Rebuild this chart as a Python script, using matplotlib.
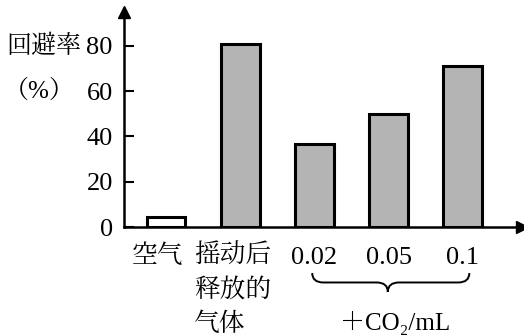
import numpy as np
import matplotlib
matplotlib.use("Agg")
import matplotlib.pyplot as plt
from matplotlib.path import Path
from matplotlib.patches import PathPatch
import matplotlib.transforms as mtransforms

FONTS = ['Liberation Serif', 'Noto Serif CJK JP', 'DejaVu Serif']
plt.rcParams['font.family'] = FONTS

# ===== DATA =====
categories = ["空气", "摇动后\n释放的\n气体", "0.02", "0.05", "0.1"]
avoid_rate = [4.5, 81, 36.5, 50, 71]
bar_colors = ["white", "#b4b4b4", "#b4b4b4", "#b4b4b4", "#b4b4b4"]
yticks = [0, 20, 40, 60, 80]

fig = plt.figure(figsize=(5.24, 3.36), dpi=100)
ax = fig.add_axes([0.2366, 0.3244, 0.7595, 0.64])

x = np.arange(len(categories))
ax.bar(x, avoid_rate, width=0.52, color=bar_colors, edgecolor="black", linewidth=2.2)

ax.set_xlim(-0.57, 4.8)
ax.set_ylim(0, 95)
for s in ["top", "right"]:
    ax.spines[s].set_visible(False)
for s in ["left", "bottom"]:
    ax.spines[s].set_linewidth(1.8)

# axis arrows
ax.plot(0, 1, marker="^", color="black", markersize=8, transform=ax.transAxes, clip_on=False)
ax.plot(1, 0, marker=">", color="black", markersize=8, transform=ax.transAxes, clip_on=False)

ax.set_yticks(yticks)
ax.set_yticklabels([str(v) for v in yticks], fontsize=19)
ax.tick_params(axis="y", direction="in", length=7, width=1.5, pad=8)
ax.set_xticks([])

# y label
yt = mtransforms.blended_transform_factory(ax.transAxes, ax.transData)
ax.text(-0.108, 80, "回避率", fontsize=18, ha="right", va="center", transform=yt)
ax.text(-0.123, 60, "（%）", fontsize=18, ha="right", va="center", transform=yt)

# category labels
bt = mtransforms.blended_transform_factory(ax.transData, ax.transAxes)
ax.text(x[0] - 0.115, -0.135, categories[0], fontsize=18.5, ha="center", va="center", transform=bt)
for k, line in enumerate(categories[1].split("\n")):
    ax.text(x[1] - 0.62, -0.135 - k * 0.158, line, fontsize=18.5, ha="left", va="center", transform=bt)
for i in range(2, 5):
    ax.text(x[i], -0.145, categories[i], fontsize=19, ha="center", va="center", transform=bt)

# brace under CO2 groups
l, r, m = 1.97, 4.09, 2.99
y0, y1, y2 = -0.214, -0.258, -0.302
verts = [(l, y0), (l, y1), (l + 0.15, y1), (m - 0.15, y1), (m, y1), (m, y2),
         (m, y1), (m + 0.15, y1), (r - 0.15, y1), (r, y1), (r, y0)]
codes = [Path.MOVETO, Path.CURVE3, Path.CURVE3, Path.LINETO, Path.CURVE3, Path.CURVE3,
         Path.CURVE3, Path.CURVE3, Path.LINETO, Path.CURVE3, Path.CURVE3]
ax.add_patch(PathPatch(Path(verts, codes), facecolor="none", edgecolor="black",
                       linewidth=1.4, transform=bt, clip_on=False))
ax.text(m + 0.1, -0.445, "＋CO₂/mL", fontsize=18, ha="center", va="center", transform=bt)

fig.savefig("out.png")
